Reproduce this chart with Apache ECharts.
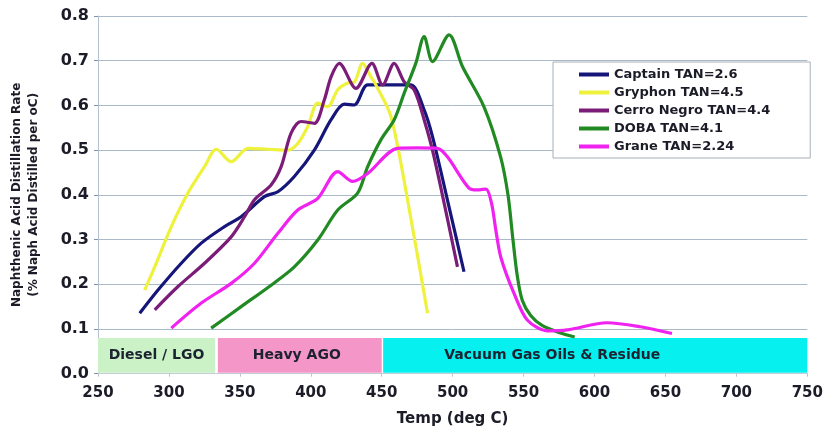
<!DOCTYPE html>
<html>
<head>
<meta charset="utf-8">
<script src="https://cdn.jsdelivr.net/npm/echarts@6/dist/echarts.min.js"></script>
<style>
  html, body { margin: 0; padding: 0; background: #fff; }
  #chart { width: 834px; height: 433px; }
</style>
</head>
<body>
<div id="chart"></div>
<script>
// values: [temp degC, rate]
var captain = [[279.4,0.135],[292.3,0.187],[308.7,0.247],[322.8,0.292],[339.2,0.329],[350.9,0.351],[367.3,0.396],[376.8,0.407],[388.4,0.441],[402.5,0.500],[414.3,0.568],[423.6,0.603],[430.6,0.601],[440.1,0.646],[455,0.646],[470.5,0.646],[479.9,0.590],[485.8,0.530],[496.3,0.389],[508,0.228]];
var gryphon = [[282.9,0.187],[290,0.239],[301.7,0.329],[313.4,0.404],[325.1,0.463],[333.4,0.502],[343.9,0.474],[355.7,0.504],[370,0.502],[383.8,0.500],[390.8,0.515],[397.9,0.553],[404.9,0.605],[411.9,0.597],[419,0.635],[426,0.650],[430.6,0.652],[436.5,0.694],[442.4,0.664],[445.9,0.646],[456.5,0.575],[468.2,0.389],[482.3,0.135]];
var cerroNegro = [[290,0.143],[306.4,0.195],[325.1,0.247],[343.9,0.306],[353.3,0.351],[360.3,0.389],[372,0.422],[379.1,0.463],[386.1,0.538],[393.1,0.564],[402.5,0.560],[409.5,0.612],[414.3,0.664],[420.1,0.694],[431.8,0.638],[443.1,0.694],[450.6,0.646],[458.8,0.694],[465.8,0.653],[472.8,0.635],[479.9,0.568],[486.9,0.485],[503.4,0.239]];
var doba = [[329.8,0.102],[350.9,0.150],[372,0.198],[388.4,0.239],[404.9,0.299],[419,0.366],[433,0.404],[440.1,0.463],[449.4,0.523],[458.8,0.568],[465.8,0.627],[474,0.694],[479.9,0.754],[485.8,0.698],[497.5,0.758],[506.9,0.687],[522.1,0.597],[533.8,0.485],[539,0.400],[542.5,0.300],[545.5,0.220],[549,0.165],[555,0.130],[563,0.108],[576,0.091],[586,0.082]];
var grane = [[301.7,0.102],[322.8,0.158],[343.9,0.202],[360.3,0.247],[376.8,0.314],[390.8,0.366],[404.9,0.392],[419,0.452],[429.5,0.430],[440.1,0.448],[461.2,0.504],[475,0.505],[489.3,0.504],[496.3,0.485],[511.5,0.415],[517.4,0.411],[523.5,0.413],[527.5,0.380],[530.5,0.320],[534,0.260],[543.2,0.180],[552.6,0.120],[566.7,0.096],[580.8,0.098],[608.9,0.114],[632.3,0.105],[654.6,0.090]];

var seriesNames = ['Captain TAN=2.6', 'Gryphon TAN=4.5', 'Cerro Negro TAN=4.4', 'DOBA TAN=4.1', 'Grane TAN=2.24'];
var seriesColors = ['#16167a', '#eef23c', '#7a1c78', '#228a22', '#f022f0'];
var seriesData = [captain, gryphon, cerroNegro, doba, grane];

// temperature ranges of the product cuts
var bandNames = ['Diesel / LGO', 'Heavy AGO', 'Vacuum Gas Oils & Residue'];
var bandFrom = [250, 334.5, 451];
var bandTo = [332.5, 450, 755];
var bandColors = ['#caf2c6', '#f596c8', '#06f0f0'];
var bandLabelOffset = [0, -3, -43];

var chart = echarts.init(document.getElementById('chart'));

var series = seriesData.map(function (d, i) {
  return {
    name: seriesNames[i],
    type: 'line',
    data: d,
    smooth: 0.3,
    showSymbol: false,
    z: 3,
    lineStyle: { width: 3.2, color: seriesColors[i] },
    itemStyle: { color: seriesColors[i] }
  };
});

series.push({
  name: 'bands',
  type: 'line',
  data: [],
  z: 6,
  clip: false,
  markArea: {
    silent: true,
    data: bandNames.map(function (n, i) {
      return [
        {
          name: n, xAxis: bandFrom[i], yAxis: 0.002,
          itemStyle: { color: bandColors[i], borderRadius: 3 },
          label: { offset: [bandLabelOffset[i], 0] }
        },
        { xAxis: bandTo[i], yAxis: 0.08 }
      ];
    }),
    label: {
      show: true,
      position: 'inside',
      color: '#1c2230',
      fontFamily: 'DejaVu Sans',
      fontWeight: 'bold',
      fontSize: 14
    }
  }
});

var option = {
  animation: false,
  grid: { left: 96.5, right: 26.7, top: 16, bottom: 59.3 },
  legend: {
    data: seriesNames,
    orient: 'vertical',
    left: 553,
    top: 62,
    icon: 'rect',
    itemWidth: 30,
    itemHeight: 4,
    itemGap: 5,
    padding: [6, 40, 5, 26],
    backgroundColor: '#fff',
    borderColor: '#a7b0ba',
    borderWidth: 1,
    textStyle: { color: '#1c1c28', fontFamily: 'DejaVu Sans', fontWeight: 'bold', fontSize: 13 }
  },
  xAxis: {
    type: 'value',
    min: 250,
    max: 750,
    interval: 50,
    name: 'Temp (deg C)',
    nameLocation: 'middle',
    nameGap: 38,
    nameTextStyle: { color: '#1c1c28', fontFamily: 'DejaVu Sans', fontWeight: 'bold', fontSize: 15 },
    axisLine: { show: true, lineStyle: { color: '#c4ccd6' } },
    axisTick: { show: true, length: 3, lineStyle: { color: '#b8c4d0' } },
    splitLine: { show: false },
    axisLabel: { color: '#1c1c28', fontFamily: 'DejaVu Sans', fontWeight: 'bold', fontSize: 15, margin: 12 }
  },
  yAxis: {
    type: 'value',
    min: 0,
    max: 0.8,
    interval: 0.1,
    name: 'Naphthenic Acid Distillation Rate\n(% Naph Acid Distilled per oC)',
    nameLocation: 'middle',
    nameRotate: 90,
    nameGap: 56,
    nameTextStyle: { color: '#1c1c28', fontFamily: 'DejaVu Sans', fontWeight: 'bold', fontSize: 12, lineHeight: 17 },
    axisLine: { show: true, lineStyle: { color: '#b4c2d0' } },
    axisTick: { show: true, length: 4, lineStyle: { color: '#7f95aa' } },
    splitLine: { show: true, lineStyle: { color: '#a9b9c8', width: 1 } },
    axisLabel: {
      color: '#1c1c28', fontFamily: 'DejaVu Sans', fontWeight: 'bold', fontSize: 16, margin: 9,
      formatter: function (v) { return v.toFixed(1); }
    }
  },
  series: series
};

chart.setOption(option);
</script>
</body>
</html>
